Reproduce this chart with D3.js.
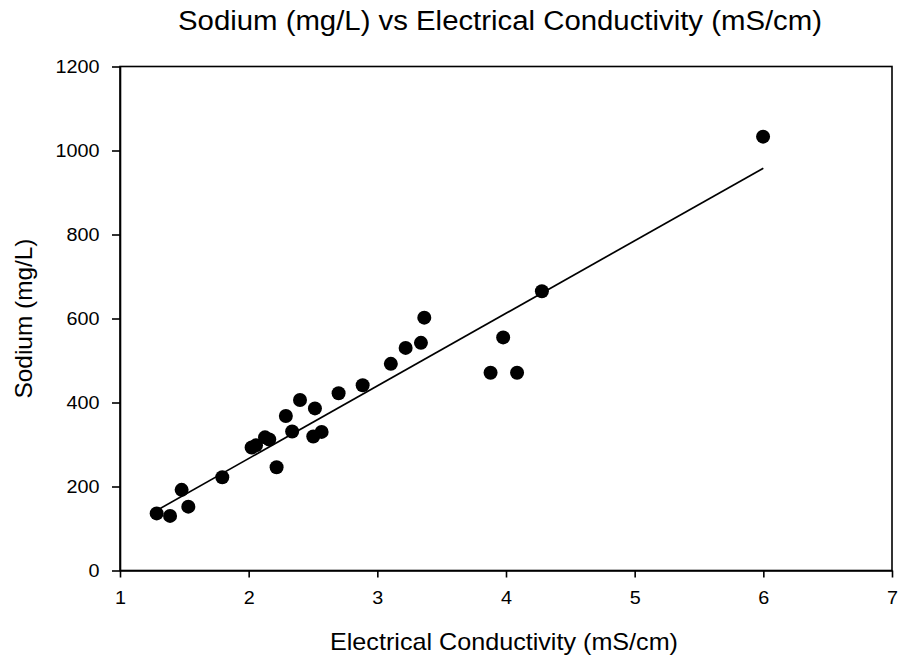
<!DOCTYPE html>
<html>
<head>
<meta charset="utf-8">
<script src="https://cdn.jsdelivr.net/npm/d3@7"></script>
<style>
  html, body { margin: 0; padding: 0; background: #fff; }
  svg { display: block; font-family: Arial, "Liberation Sans", sans-serif; }
</style>
</head>
<body>
<svg id="chart" width="899" height="658"></svg>
<script>
const titleText = "Sodium (mg/L) vs Electrical Conductivity (mS/cm)";
const xLabel = "Electrical Conductivity (mS/cm)";
const yLabel = "Sodium (mg/L)";

const conductivity = [1.285, 1.389, 1.479, 1.531, 1.795, 2.023, 2.057, 2.127, 2.16, 2.217,
  2.289, 2.338, 2.399, 2.502, 2.515, 2.567, 2.699, 2.886, 3.105, 3.22, 3.339, 3.365,
  3.88, 3.978, 4.086, 4.279, 5.998];
const sodium = [136, 130, 192, 152, 222, 293, 298, 317, 312, 246,
  368, 331, 406, 319, 386, 330, 422, 441, 492, 530, 542, 602,
  471, 555, 471, 665, 1033];

const fitX = [1.285, 6.0];
const fitY = [143, 958];

const xTicks = [1, 2, 3, 4, 5, 6, 7];
const yTicks = [0, 200, 400, 600, 800, 1000, 1200];

const svg = d3.select("#chart");
const mLeft = 120, mRight = 892, mTop = 66.5, mBottom = 570.5;

const x = d3.scaleLinear().domain([1, 7]).range([mLeft, mRight]);
const y = d3.scaleLinear().domain([0, 1200]).range([mBottom, mTop]);

// frame
svg.append("rect")
  .attr("x", mLeft).attr("y", mTop)
  .attr("width", mRight - mLeft).attr("height", mBottom - mTop)
  .attr("fill", "none").attr("stroke", "#000").attr("stroke-width", 1.6);

const xAxis = svg.append("g")
  .attr("transform", `translate(0,${mBottom})`)
  .call(d3.axisBottom(x).tickValues(xTicks).tickFormat(d3.format("d")).tickSizeInner(7).tickSizeOuter(0).tickPadding(14));
const yAxis = svg.append("g")
  .attr("transform", `translate(${mLeft},0)`)
  .call(d3.axisLeft(y).tickValues(yTicks).tickFormat(d3.format("d")).tickSizeInner(8).tickSizeOuter(0).tickPadding(12.5));

[xAxis, yAxis].forEach(g => {
  g.select(".domain").attr("stroke", "#000").attr("stroke-width", 1.6);
  g.selectAll(".tick line").attr("stroke", "#000").attr("stroke-width", 1.6);
  g.selectAll(".tick text").attr("fill", "#000").style("font-size", "18px")
    .style("font-family", "Arial, 'Liberation Sans', sans-serif")
    .attr("textLength", function () { return this.textContent.length * 11; })
    .attr("lengthAdjust", "spacingAndGlyphs");
});

// fit line
const fit = fitX.map((d, i) => ({ x: d, y: fitY[i] }));
svg.append("path")
  .datum(fit)
  .attr("d", d3.line().x(d => x(d.x)).y(d => y(d.y)))
  .attr("stroke", "#000").attr("stroke-width", 1.7).attr("fill", "none");

// points
const pts = conductivity.map((d, i) => ({ x: d, y: sodium[i] }));
svg.append("g").selectAll("circle")
  .data(pts).join("circle")
  .attr("cx", d => x(d.x)).attr("cy", d => y(d.y))
  .attr("r", 7).attr("fill", "#000");

// title
svg.append("text")
  .attr("x", 500).attr("y", 30)
  .attr("text-anchor", "middle")
  .style("font-size", "27px")
  .attr("textLength", 644).attr("lengthAdjust", "spacingAndGlyphs")
  .text(titleText);

svg.append("text")
  .attr("x", 504).attr("y", 650)
  .attr("text-anchor", "middle")
  .style("font-size", "24px")
  .attr("textLength", 348).attr("lengthAdjust", "spacingAndGlyphs")
  .text(xLabel);

svg.append("text")
  .attr("transform", `translate(32,${(mTop + mBottom) / 2}) rotate(-90)`)
  .attr("text-anchor", "middle")
  .style("font-size", "24px")
  .attr("textLength", 160).attr("lengthAdjust", "spacingAndGlyphs")
  .text(yLabel);
</script>
</body>
</html>
